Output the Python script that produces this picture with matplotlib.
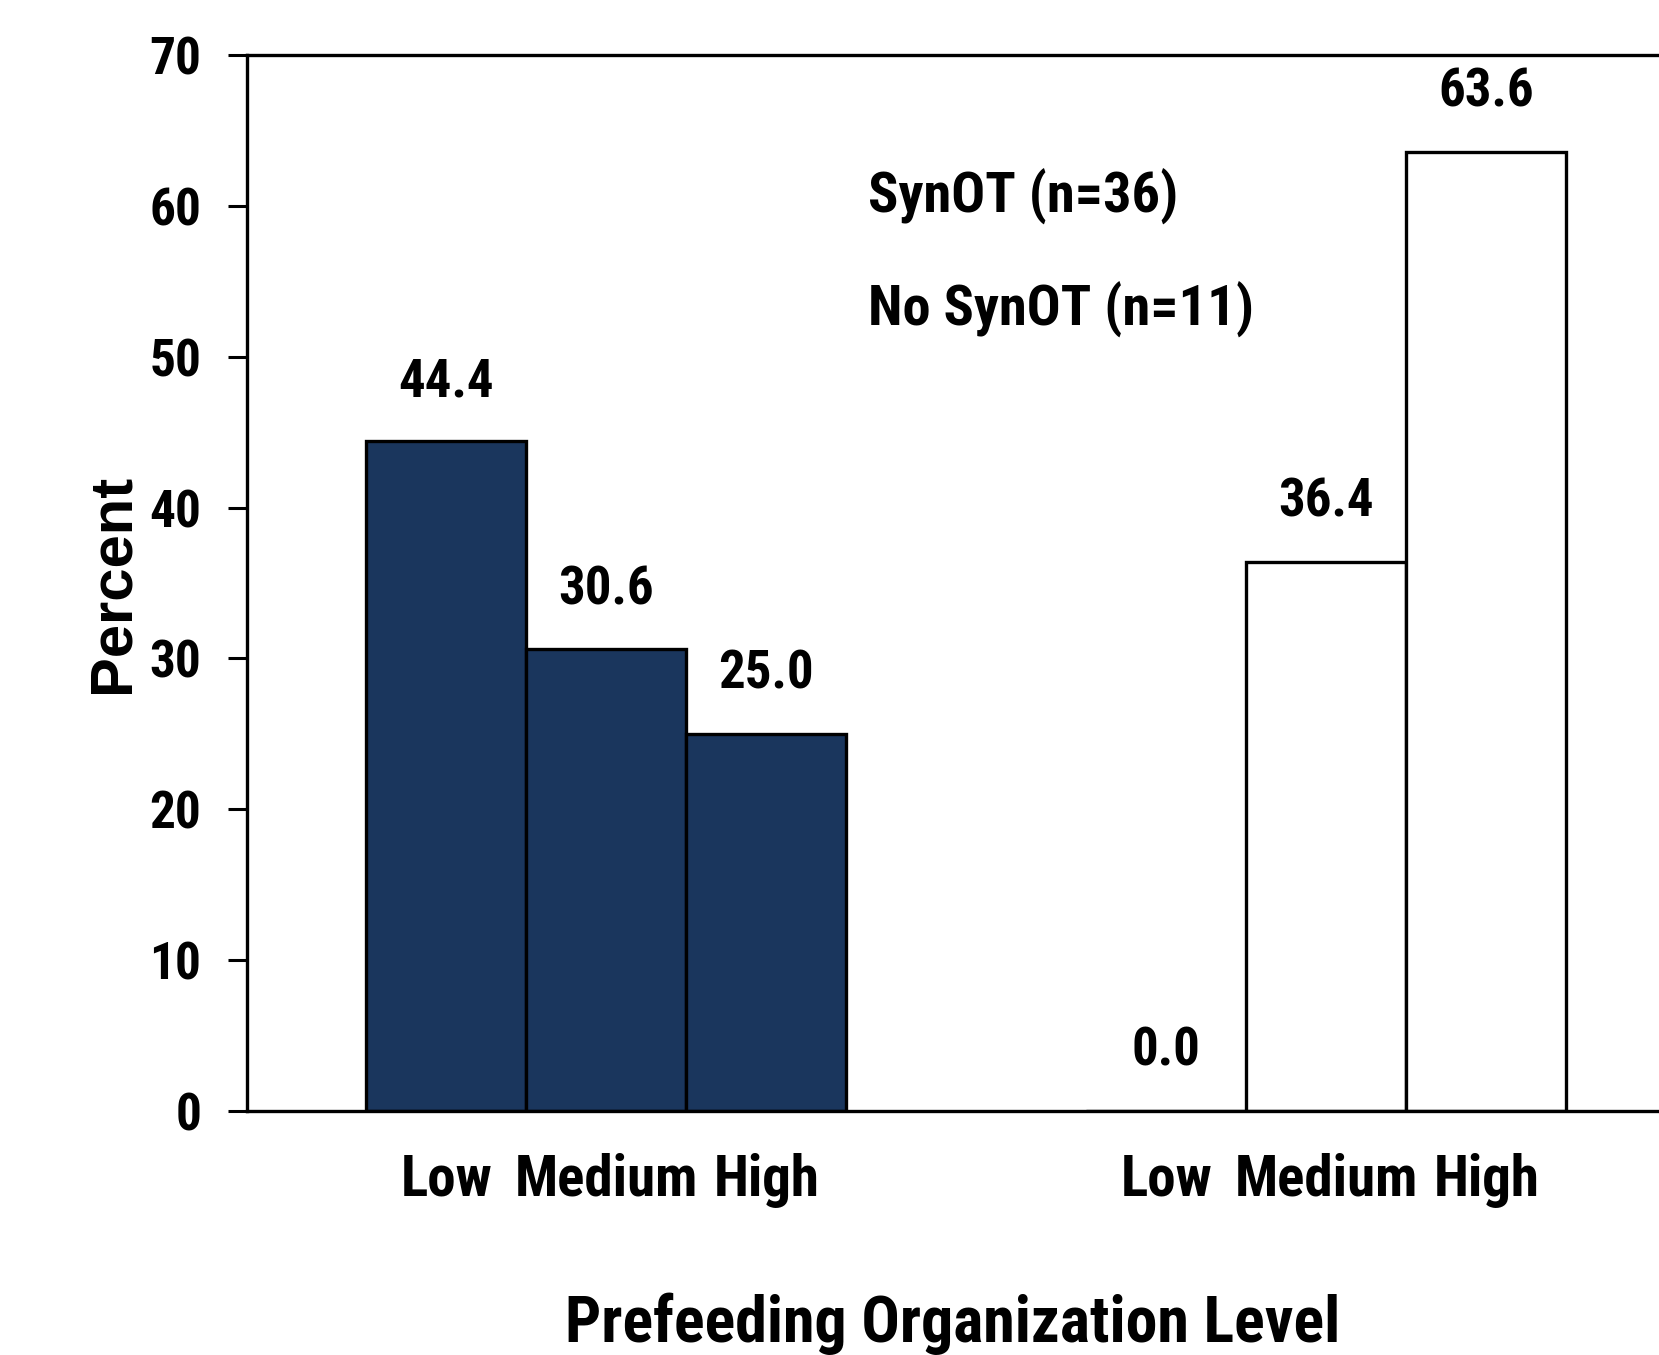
import matplotlib
matplotlib.use("Agg")
import matplotlib.pyplot as plt
from matplotlib import font_manager

wmap = {}
for f in font_manager.fontManager.ttflist:
    w = f.weight
    if isinstance(w, str):
        w = font_manager.weight_dict.get(w, 400)
    wmap.setdefault(f.name, set()).add(int(w))

FONT = "Liberation Sans"
for cand in ["Arial Narrow", "Liberation Sans Narrow", "Roboto Condensed", "Archivo Narrow",
             "PT Sans Narrow", "Open Sans Condensed", "Barlow Semi Condensed", "Barlow Condensed",
             "Fira Sans Condensed", "IBM Plex Sans Condensed", "Encode Sans Condensed"]:
    if cand in wmap and max(wmap[cand]) >= 700:
        FONT = cand
        break
plt.rcParams['font.family'] = [FONT, 'DejaVu Sans']
plt.rcParams['font.weight'] = 'bold'

categories = ["Low", "Medium", "High"]
groups = ["SynOT (n=36)", "No SynOT (n=11)"]
synot = [44.4, 30.6, 25.0]
no_synot = [0.0, 36.4, 63.6]
yticks = [0, 10, 20, 30, 40, 50, 60, 70]

fig = plt.figure(figsize=(16.59, 13.55), dpi=100)
ax = fig.add_axes([0.1489, 0.180, 0.8511, 0.7794])

x1 = [0, 1, 2]
x2 = [4.5, 5.5, 6.5]
ax.bar(x1, synot, width=1.0, color="#1a365d", edgecolor="black", linewidth=2.4)
ax.bar(x2, no_synot, width=1.0, color="white", edgecolor="black", linewidth=2.4)

for xs, vals in ((x1, synot), (x2, no_synot)):
    for x, v in zip(xs, vals):
        ax.annotate(f"{v:.1f}", (x, v), xytext=(0, 43), textcoords="offset points",
                    ha="center", va="center", fontsize=38, fontweight="bold")

ax.set_xlim(-1.245, 7.58)
ax.set_ylim(0, 70)
ax.set_yticks(yticks)
ax.set_yticklabels([str(t) for t in yticks], fontsize=37, fontweight="bold")
ax.set_xticks(x1 + x2)
ax.set_xticklabels(categories + categories, fontsize=41, fontweight="bold")
ax.tick_params(axis="x", length=0, pad=30)
ax.tick_params(axis="y", length=14, width=2.2, direction="out", pad=19)

for s in ("left", "top", "bottom"):
    ax.spines[s].set_linewidth(2.4)
ax.spines["right"].set_visible(False)

ax.set_ylabel("Percent", fontsize=43, fontweight="bold", labelpad=6,
              family=["Liberation Sans", "DejaVu Sans"])
ax.set_xlabel("Prefeeding Organization Level", fontsize=46, fontweight="bold", labelpad=61)

ax.text(0.44, 0.866, groups[0], transform=ax.transAxes, fontsize=40.5,
        fontweight="bold", va="center", ha="left")
ax.text(0.44, 0.759, groups[1], transform=ax.transAxes, fontsize=40.5,
        fontweight="bold", va="center", ha="left")

fig.savefig("out.png", dpi=100)
